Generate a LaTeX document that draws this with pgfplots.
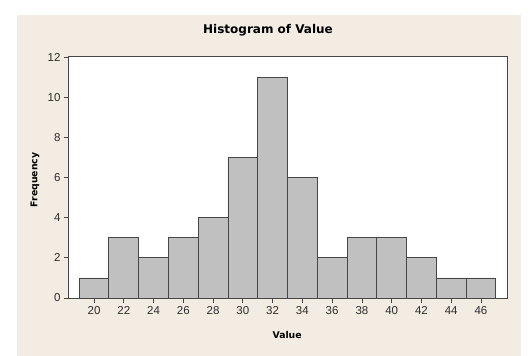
\documentclass[border=0pt]{standalone}
\usepackage{pgfplots}
\pgfplotsset{compat=1.18}
\usepackage{fontspec}
\setmainfont{DejaVu Sans}
\newfontfamily\tickfont{Liberation Sans}
\definecolor{bg}{RGB}{242,236,227}
\definecolor{barfill}{RGB}{192,192,192}
\definecolor{edge}{RGB}{70,70,70}
\definecolor{txt}{RGB}{45,45,45}
\begin{document}
\begin{tikzpicture}[x=1pt,y=1pt]
\fill[white] (-69,-58) rectangle (461,298);
\fill[bg] (-52,-58) rectangle (452,283);
\begin{axis}[
  at={(0,0)}, anchor=south west,
  scale only axis, width=438pt, height=241pt,
  xmin=18.32, xmax=47.75, ymin=0, ymax=12,
  xtick={20,22,...,46}, ytick={0,2,...,12},
  tick pos=left, tick align=outside,
  major tick length=5pt,
  axis line style={edge, line width=1pt},
  tick style={edge, line width=0.7pt},
  axis background/.style={fill=white},
  ticklabel style={font=\tickfont\fontsize{11.5}{13}\selectfont, text=txt},
  /pgf/number format/assume math mode=true,
  xlabel={Value},
  xlabel style={font=\bfseries\fontsize{9.3}{11}\selectfont, at={(axis description cs:0.498,-0.1535)}, anchor=center, yshift=0pt},
  ylabel={Frequency},
  ylabel style={font=\bfseries\fontsize{9.3}{11}\selectfont, at={(axis description cs:-0.0776,0.49)}, anchor=center, rotate=0, yshift=0pt},
]
\addplot[ybar interval, fill=barfill, draw=edge, line width=0.8pt] coordinates {
(19,1) (21,3) (23,2) (25,3) (27,4) (29,7) (31,11) (33,6) (35,2) (37,3) (39,3) (41,2) (43,1) (45,1) (47,1)
};
\end{axis}
\node[font=\bfseries\fontsize{12}{14}\selectfont, anchor=center] at (199,268) {Histogram of Value};
\end{tikzpicture}
\end{document}
